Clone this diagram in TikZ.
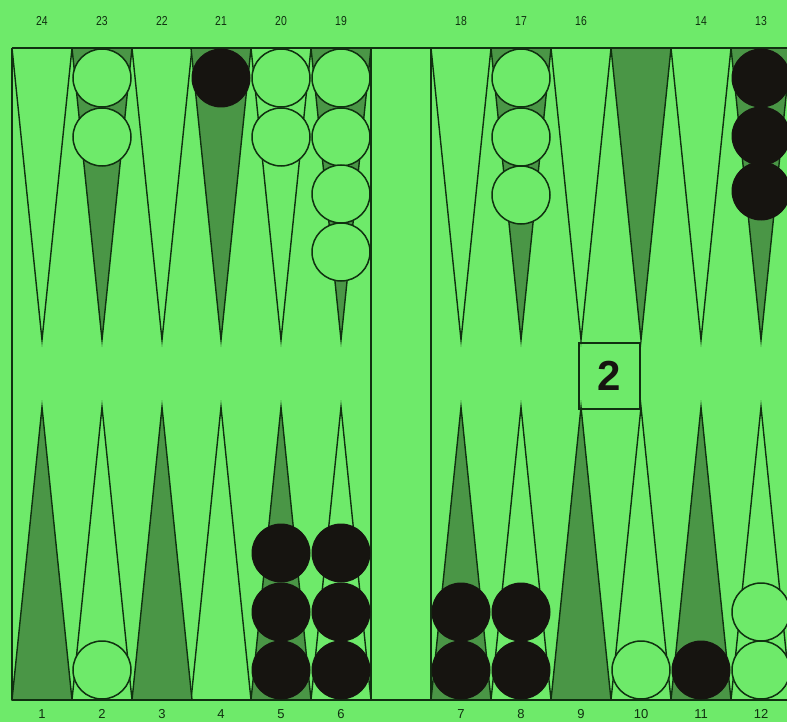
\documentclass[tikz,border=0pt]{standalone}
\usepackage{fontspec}
\setmainfont{Liberation Sans}
\begin{document}
\begin{tikzpicture}[x=1pt,y=-1pt]
\definecolor{bg}{RGB}{110,234,106}
\definecolor{dk}{RGB}{74,150,70}
\definecolor{ln}{RGB}{16,48,16}
\definecolor{blk}{RGB}{22,20,16}
\tikzset{
  ptline/.style={draw=ln, line width=1.4pt, line join=miter},
  wchk/.style={circle, minimum size=58pt, inner sep=0pt, draw=ln, line width=1.5pt, fill=bg},
  bchk/.style={circle, minimum size=58pt, inner sep=0pt, draw=blk, line width=1pt, fill=blk},
  toplab/.style={font=\fontsize{13}{13}\selectfont, text=ln, inner sep=0pt},
  botlab/.style={font=\fontsize{13}{13}\selectfont, text=ln, inner sep=0pt},
  cube/.style={draw=ln, line width=2pt, minimum width=61pt, minimum height=66pt, inner sep=0pt, font=\fontsize{42}{42}\selectfont\bfseries, text=blk}
}
\useasboundingbox (0,0) rectangle (787,722);
\clip (0,0) rectangle (787,722);
\fill[bg] (0,0) rectangle (787,722);
% top points
\foreach \x in {42,162,281,461,581,701}
  \draw[ptline] (\x-30,48) -- (\x,340) -- (\x+30,48);
\foreach \x in {102,221,341,521,641,761}
  \filldraw[ptline, fill=dk] (\x-30,48) -- (\x,340) -- (\x+30,48) -- cycle;
% bottom points
\foreach \x in {102,221,341,521,641,761}
  \draw[ptline] (\x-30,700) -- (\x,407) -- (\x+30,700);
\foreach \x in {42,162,281,461,581,701}
  \filldraw[ptline, fill=dk] (\x-30,700) -- (\x,407) -- (\x+30,700) -- cycle;
% board lines
\draw[ln, line width=1.6pt] (12,48) -- (800,48);
\draw[ln, line width=1.6pt] (12,700) -- (800,700);
\draw[ln, line width=1.6pt] (12,48) -- (12,700);
\draw[ln, line width=1.6pt] (371,48) -- (371,700);
\draw[ln, line width=1.6pt] (431,48) -- (431,700);
% top checkers
\node[wchk] (c23a) at (102,78) {};
\node[wchk] (c23b) at (102,137) {};
\node[bchk] (c21a) at (221,78) {};
\node[wchk] (c20a) at (281,78) {};
\node[wchk] (c20b) at (281,137) {};
\node[wchk] (c19a) at (341,78) {};
\node[wchk] (c19b) at (341,137) {};
\node[wchk] (c19c) at (341,194) {};
\node[wchk] (c19d) at (341,252) {};
\node[wchk] (c17a) at (521,78) {};
\node[wchk] (c17b) at (521,137) {};
\node[wchk] (c17c) at (521,195) {};
\node[bchk] (c13a) at (761,78) {};
\node[bchk] (c13b) at (761,136) {};
\node[bchk] (c13c) at (761,191) {};
% bottom checkers
\node[wchk] (c2a) at (102,670) {};
\node[bchk] (c5a) at (281,670) {};
\node[bchk] (c5b) at (281,612) {};
\node[bchk] (c5c) at (281,553) {};
\node[bchk] (c6a) at (341,670) {};
\node[bchk] (c6b) at (341,612) {};
\node[bchk] (c6c) at (341,553) {};
\node[bchk] (c7a) at (461,670) {};
\node[bchk] (c7b) at (461,612) {};
\node[bchk] (c8a) at (521,670) {};
\node[bchk] (c8b) at (521,612) {};
\node[wchk] (c10a) at (641,670) {};
\node[bchk] (c11a) at (701,670) {};
\node[wchk] (c12a) at (761,670) {};
\node[wchk] (c12b) at (761,612) {};
% doubling cube
\node[cube] (cube) at (609.5,376) {2};
% top labels
\foreach \x/\t in {42/24,102/23,162/22,221/21,281/20,341/19,461/18,521/17,581/16,701/14,761/13}
  \node[toplab] (t\t) at (\x,21) {\scalebox{0.8}[1]{\t}};
% bottom labels
\foreach \x/\t in {42/1,102/2,162/3,221/4,281/5,341/6,461/7,521/8,581/9,641/10,701/11,761/12}
  \node[botlab] (b\t) at (\x,714) {\t};
\end{tikzpicture}
\end{document}
